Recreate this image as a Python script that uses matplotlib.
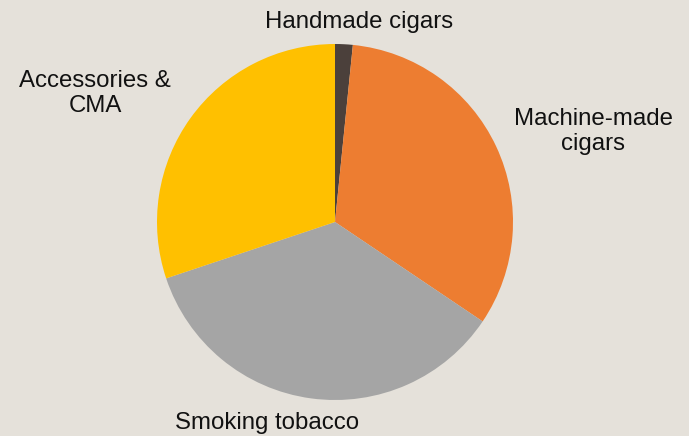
import matplotlib.pyplot as plt
import numpy as np

plt.rcParams['font.family'] = ['Liberation Sans', 'DejaVu Sans']

# shares of sales (%), clockwise from the top
categories = ['Handmade cigars', 'Machine-made\ncigars', 'Smoking tobacco', 'Accessories &\nCMA']
values = [1.6, 32.8, 35.4, 30.1]
colors = ['#4B403B', '#ED7D31', '#A5A5A5', '#FFC000']

bg = '#E5E1DA'
fig = plt.figure(figsize=(6.89, 4.36), dpi=100, facecolor=bg)
ax = fig.add_axes([0, 0, 1, 1])
ax.set_facecolor(bg)

cx, cy, r = 335, 214, 178
wedges, _ = ax.pie(values, colors=colors, startangle=90, counterclock=False,
                   radius=r, center=(cx, cy), frame=True,
                   wedgeprops=dict(linewidth=0))

# label anchor: x centre, baseline of first line (pixel coords, y up)
label_pos = [(359, 408), (593, 311), (267, 7), (95, 349)]
line_step = 25
for name, (x, y) in zip(categories, label_pos):
    for i, line in enumerate(name.split('\n')):
        ax.text(x, y - i * line_step, line, ha='center', va='baseline',
                fontsize=17.3, color='#111111')

ax.set_xlim(0, 689)
ax.set_ylim(0, 436)
ax.set_aspect('equal')
ax.axis('off')

fig.savefig('out.png', dpi=100, facecolor=bg)
